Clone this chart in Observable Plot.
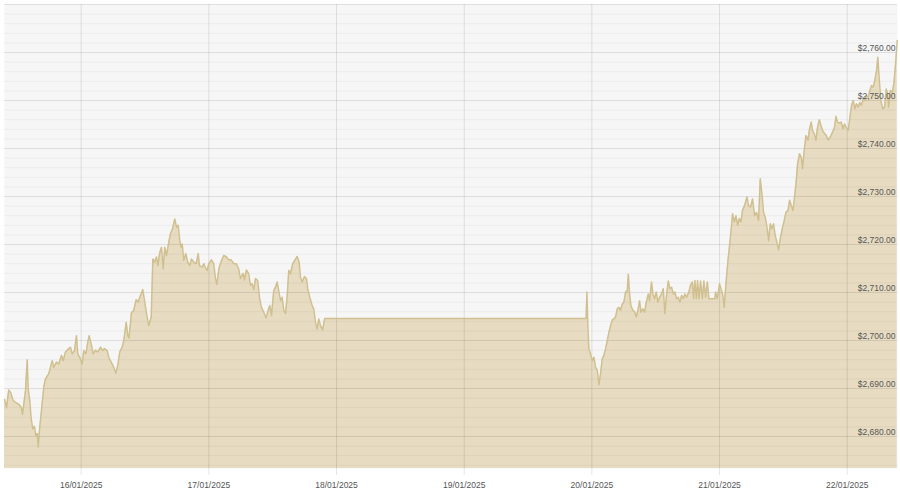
<!DOCTYPE html>
<html>
<head>
<meta charset="utf-8">
<script src="https://cdn.jsdelivr.net/npm/d3@7"></script>
<script src="https://cdn.jsdelivr.net/npm/@observablehq/plot@0.6"></script>
<style>
  html, body { margin: 0; padding: 0; background: #ffffff; }
  #chart { width: 900px; height: 494px; }
  svg { display: block; }
</style>
</head>
<body>
<div id="chart"></div>
<script>
// ---- data (UTC times, USD price) ----
const times = [
"2025-01-15T09:35","2025-01-15T09:58","2025-01-15T10:23","2025-01-15T10:43","2025-01-15T11:13","2025-01-15T11:39","2025-01-15T12:16","2025-01-15T12:43","2025-01-15T12:58","2025-01-15T13:13",
"2025-01-15T13:32","2025-01-15T13:51","2025-01-15T14:02","2025-01-15T14:20","2025-01-15T14:36","2025-01-15T14:54","2025-01-15T15:13","2025-01-15T15:28","2025-01-15T15:44","2025-01-15T15:55",
"2025-01-15T16:13","2025-01-15T16:32","2025-01-15T16:58","2025-01-15T17:17","2025-01-15T17:55","2025-01-15T18:33","2025-01-15T18:51","2025-01-15T19:22","2025-01-15T19:47","2025-01-15T20:18",
"2025-01-15T20:37","2025-01-15T21:03","2025-01-15T21:40","2025-01-15T21:59","2025-01-15T22:18","2025-01-15T22:44","2025-01-15T23:07","2025-01-15T23:22","2025-01-15T23:44",
"2025-01-16T00:11","2025-01-16T00:29","2025-01-16T00:52","2025-01-16T01:14","2025-01-16T01:30","2025-01-16T01:53","2025-01-16T02:15","2025-01-16T02:41","2025-01-16T03:07","2025-01-16T03:38",
"2025-01-16T04:00","2025-01-16T04:23","2025-01-16T04:53","2025-01-16T05:11","2025-01-16T05:38","2025-01-16T06:08","2025-01-16T06:30","2025-01-16T06:53","2025-01-16T07:15","2025-01-16T07:42",
"2025-01-16T08:01","2025-01-16T08:28","2025-01-16T08:46","2025-01-16T08:59","2025-01-16T09:27","2025-01-16T09:53","2025-01-16T10:20","2025-01-16T10:43","2025-01-16T11:01","2025-01-16T11:35",
"2025-01-16T11:57","2025-01-16T12:17","2025-01-16T12:42","2025-01-16T13:10","2025-01-16T13:28","2025-01-16T13:47","2025-01-16T14:09","2025-01-16T14:24","2025-01-16T14:47","2025-01-16T15:06",
"2025-01-16T15:25","2025-01-16T15:43","2025-01-16T16:02","2025-01-16T16:28","2025-01-16T16:47","2025-01-16T17:10","2025-01-16T17:36","2025-01-16T17:55","2025-01-16T18:14","2025-01-16T18:32",
"2025-01-16T18:48","2025-01-16T18:59","2025-01-16T19:17","2025-01-16T19:40","2025-01-16T20:02","2025-01-16T20:25","2025-01-16T20:44","2025-01-16T21:10","2025-01-16T21:37","2025-01-16T22:00",
"2025-01-16T22:14","2025-01-16T22:45","2025-01-16T23:03","2025-01-16T23:22","2025-01-16T23:41","2025-01-16T23:59",
"2025-01-17T00:29","2025-01-17T00:55","2025-01-17T01:14","2025-01-17T01:29","2025-01-17T01:54","2025-01-17T02:20","2025-01-17T02:48","2025-01-17T03:19","2025-01-17T03:44","2025-01-17T04:11",
"2025-01-17T04:41","2025-01-17T05:11","2025-01-17T05:37","2025-01-17T05:56","2025-01-17T06:27","2025-01-17T06:41","2025-01-17T07:04","2025-01-17T07:30","2025-01-17T07:49","2025-01-17T08:08",
"2025-01-17T08:26","2025-01-17T08:46","2025-01-17T09:11","2025-01-17T09:31","2025-01-17T09:53","2025-01-17T10:19","2025-01-17T10:46","2025-01-17T11:09","2025-01-17T11:27","2025-01-17T11:46",
"2025-01-17T12:12","2025-01-17T12:31","2025-01-17T12:50","2025-01-17T13:08","2025-01-17T13:28","2025-01-17T13:47","2025-01-17T14:05","2025-01-17T14:24","2025-01-17T14:43","2025-01-17T15:01",
"2025-01-17T15:20","2025-01-17T15:46","2025-01-17T16:09","2025-01-17T16:36","2025-01-17T16:59","2025-01-17T17:13","2025-01-17T17:32","2025-01-17T17:58","2025-01-17T18:21","2025-01-17T18:35",
"2025-01-17T18:58","2025-01-17T19:25","2025-01-17T19:43","2025-01-17T20:02","2025-01-17T20:22","2025-01-17T20:40","2025-01-17T20:59","2025-01-17T21:22","2025-01-17T21:47",
"2025-01-19T22:55","2025-01-19T23:04","2025-01-19T23:15","2025-01-19T23:26","2025-01-19T23:45",
"2025-01-20T00:05","2025-01-20T00:23","2025-01-20T00:42","2025-01-20T01:01","2025-01-20T01:19","2025-01-20T01:38","2025-01-20T01:57","2025-01-20T02:15","2025-01-20T02:35","2025-01-20T02:54",
"2025-01-20T03:12","2025-01-20T03:31","2025-01-20T03:50","2025-01-20T04:08","2025-01-20T04:27","2025-01-20T04:47","2025-01-20T05:05","2025-01-20T05:24","2025-01-20T05:43","2025-01-20T06:01",
"2025-01-20T06:20","2025-01-20T06:39","2025-01-20T06:51","2025-01-20T07:05","2025-01-20T07:20","2025-01-20T07:42","2025-01-20T08:05","2025-01-20T08:21","2025-01-20T08:43","2025-01-20T08:58",
"2025-01-20T09:13","2025-01-20T09:35","2025-01-20T09:54","2025-01-20T10:14","2025-01-20T10:36","2025-01-20T10:51","2025-01-20T11:13","2025-01-20T11:28","2025-01-20T11:47","2025-01-20T12:06",
"2025-01-20T12:24","2025-01-20T12:44","2025-01-20T13:06","2025-01-20T13:25","2025-01-20T13:43","2025-01-20T13:59","2025-01-20T14:22","2025-01-20T14:40","2025-01-20T14:59","2025-01-20T15:18",
"2025-01-20T15:36","2025-01-20T15:55","2025-01-20T16:15","2025-01-20T16:33","2025-01-20T16:52","2025-01-20T17:11","2025-01-20T17:29","2025-01-20T17:48","2025-01-20T18:14","2025-01-20T18:33",
"2025-01-20T18:53","2025-01-20T19:07","2025-01-20T19:22","2025-01-20T19:38","2025-01-20T19:52","2025-01-20T20:07","2025-01-20T20:26","2025-01-20T20:45","2025-01-20T21:03","2025-01-20T21:22",
"2025-01-20T21:42","2025-01-20T22:00","2025-01-20T23:07","2025-01-20T23:15","2025-01-20T23:35",
"2025-01-21T00:00","2025-01-21T00:16","2025-01-21T00:34","2025-01-21T00:53","2025-01-21T01:12","2025-01-21T01:35","2025-01-21T02:01","2025-01-21T02:27","2025-01-21T02:46","2025-01-21T03:05",
"2025-01-21T03:23","2025-01-21T03:42","2025-01-21T04:01","2025-01-21T04:19","2025-01-21T04:42","2025-01-21T05:09","2025-01-21T05:27","2025-01-21T05:50","2025-01-21T06:12","2025-01-21T06:35",
"2025-01-21T06:57","2025-01-21T07:20","2025-01-21T07:39","2025-01-21T07:58","2025-01-21T08:16","2025-01-21T08:35","2025-01-21T08:55","2025-01-21T09:13","2025-01-21T09:32","2025-01-21T09:51",
"2025-01-21T10:09","2025-01-21T10:28","2025-01-21T10:51","2025-01-21T11:05","2025-01-21T11:28","2025-01-21T11:51","2025-01-21T12:10","2025-01-21T12:29","2025-01-21T12:52","2025-01-21T13:10",
"2025-01-21T13:29","2025-01-21T13:48","2025-01-21T14:06","2025-01-21T14:22","2025-01-21T14:40","2025-01-21T15:02","2025-01-21T15:22","2025-01-21T15:36","2025-01-21T15:55","2025-01-21T16:15",
"2025-01-21T16:37","2025-01-21T16:55","2025-01-21T17:14","2025-01-21T17:29","2025-01-21T17:48","2025-01-21T18:07","2025-01-21T18:25","2025-01-21T18:45","2025-01-21T19:04","2025-01-21T19:22",
"2025-01-21T19:44","2025-01-21T20:04","2025-01-21T20:23","2025-01-21T20:49","2025-01-21T21:15","2025-01-21T21:37","2025-01-21T21:53","2025-01-21T22:11","2025-01-21T22:30","2025-01-21T22:53",
"2025-01-21T23:12","2025-01-21T23:30","2025-01-21T23:49",
"2025-01-22T00:11","2025-01-22T00:29","2025-01-22T00:49","2025-01-22T01:08","2025-01-22T01:26","2025-01-22T01:45","2025-01-22T02:04","2025-01-22T02:22","2025-01-22T02:41","2025-01-22T03:01",
"2025-01-22T03:19","2025-01-22T03:38","2025-01-22T03:57","2025-01-22T04:15","2025-01-22T04:34","2025-01-22T04:53","2025-01-22T05:11","2025-01-22T05:31","2025-01-22T05:45","2025-01-22T06:01",
"2025-01-22T06:19","2025-01-22T06:41","2025-01-22T07:01","2025-01-22T07:20","2025-01-22T07:35","2025-01-22T07:46","2025-01-22T08:05","2025-01-22T08:28","2025-01-22T08:46","2025-01-22T09:05",
"2025-01-22T09:24"
];
const prices = [
2687.7,2686.0,2689.7,2689.2,2687.5,2687.1,2686.7,2686.1,2684.6,2686.8,
2689.6,2696.0,2690.0,2687.5,2683.7,2681.6,2682.1,2680.2,2680.6,2677.8,
2682.0,2685.4,2690.3,2692.0,2693.1,2695.8,2694.4,2695.5,2695.1,2696.9,
2695.8,2697.6,2698.3,2698.6,2697.2,2697.9,2701.0,2697.2,2696.5,
2695.1,2697.9,2697.2,2699.6,2701.0,2699.3,2697.2,2698.0,2697.6,2698.6,
2697.9,2698.3,2697.9,2696.5,2695.5,2694.4,2693.2,2694.8,2697.6,2698.6,
2700.0,2703.8,2701.0,2700.5,2705.8,2706.3,2708.5,2708.0,2709.0,2710.6,
2708.0,2705.6,2703.1,2704.9,2717.0,2716.3,2717.4,2715.6,2718.4,2719.4,
2714.9,2719.4,2717.7,2720.5,2722.2,2723.3,2725.3,2723.6,2724.0,2720.8,
2719.4,2720.1,2716.7,2718.1,2716.3,2715.6,2717.0,2716.3,2716.0,2718.1,
2715.6,2715.3,2716.0,2715.1,2714.6,2716.0,
2716.8,2716.0,2713.0,2711.7,2715.0,2716.5,2717.7,2717.4,2716.8,2716.8,
2716.0,2716.0,2714.9,2712.9,2714.0,2712.6,2714.7,2713.9,2711.5,2711.8,
2710.6,2712.9,2712.5,2709.0,2706.9,2705.9,2704.7,2706.3,2707.3,2705.2,
2710.4,2711.1,2712.2,2710.4,2708.3,2709.0,2706.3,2705.6,2709.0,2714.6,
2713.9,2716.0,2716.7,2717.5,2716.3,2713.2,2712.2,2713.3,2712.9,2710.8,
2709.0,2707.3,2706.6,2703.8,2702.4,2704.5,2703.1,2702.2,2704.6,
2704.6,2710.1,2702.8,2698.3,2697.2,
2695.8,2696.5,2694.4,2693.8,2690.8,2693.1,2696.2,2696.9,2698.3,2700.0,
2701.7,2703.1,2704.3,2704.5,2704.9,2706.6,2706.9,2706.3,2707.6,2708.0,
2710.1,2710.4,2713.8,2709.7,2707.3,2706.3,2705.9,2704.9,2706.6,2708.3,
2705.9,2706.6,2705.9,2708.0,2709.7,2708.3,2712.2,2709.7,2708.7,2710.1,
2708.0,2709.0,2709.7,2710.8,2705.6,2709.0,2712.4,2710.8,2711.1,2709.7,
2710.1,2708.7,2709.0,2708.0,2709.4,2708.7,2709.7,2709.0,2710.1,2711.5,
2712.2,2708.7,2712.5,2708.7,2712.5,2708.7,2712.4,2708.7,2712.4,2709.0,
2712.2,2708.7,2708.7,2710.1,2708.7,
2711.8,2710.8,2709.7,2706.9,2711.8,2716.7,2721.2,2726.4,2724.7,2726.0,
2724.0,2725.4,2724.7,2727.1,2728.1,2729.9,2728.1,2727.8,2729.5,2726.0,
2726.7,2725.0,2733.7,2730.6,2726.7,2725.7,2723.6,2720.8,2724.3,2723.3,
2724.3,2721.9,2720.1,2718.9,2721.5,2723.6,2725.0,2726.7,2727.1,2729.2,
2728.1,2727.1,2729.9,2732.6,2736.8,2738.9,2738.2,2735.8,2739.6,2742.7,
2741.7,2744.1,2745.5,2743.8,2743.1,2741.7,2744.4,2746.0,2744.8,2743.8,
2743.1,2742.7,2741.8,2742.4,2743.4,2744.4,2746.7,2745.5,2745.3,2745.5,
2744.1,2745.1,2744.4,
2743.8,2746.2,2749.0,2750.0,2748.3,2749.3,2748.6,2749.6,2749.0,2750.4,
2750.0,2751.0,2750.7,2752.1,2753.1,2752.8,2754.2,2756.3,2759.0,2754.5,
2750.0,2748.3,2748.6,2752.4,2751.4,2748.6,2752.1,2751.7,2753.5,2757.6,
2762.5
];
// ---- axes ----
const xDomain = ["2025-01-15T09:35", "2025-01-22T09:27"];
const yDomain = [2673.33, 2770];
const xTicks = ["2025-01-16","2025-01-17","2025-01-18","2025-01-19","2025-01-20","2025-01-21","2025-01-22"];
const yTicks = [2680, 2690, 2700, 2710, 2720, 2730, 2740, 2750, 2760];
const yMajorLines = [2680, 2690, 2700, 2710, 2720, 2730, 2740, 2750, 2760, 2770];
const yMinorStep = 2;

const data = times.map((t, i) => ({date: new Date(t + ":00Z"), price: prices[i]}));
const minorLines = d3.range(2674, 2770, yMinorStep).filter(v => v % 10 !== 0);
const fmtPrice = d3.format("$,.2f");
const fmtDate = d3.utcFormat("%d/%m/%Y");

const chart = Plot.plot({
  width: 900,
  height: 494,
  marginLeft: 4,
  marginRight: 3,
  marginTop: 4,
  marginBottom: 26,
  style: {fontFamily: "'Liberation Sans', Arial, sans-serif", fontSize: "8.5px", color: "#555", background: "#ffffff"},
  x: {type: "utc", domain: xDomain.map(s => new Date(s + ":00Z"))},
  y: {domain: yDomain, axis: null},
  marks: [
    Plot.frame({fill: "#f6f6f6", stroke: null}),
    Plot.areaY(data, {x: "date", y1: yDomain[0], y2: "price", fill: "#e7dcc2", curve: "linear"}),
    Plot.ruleY(minorLines, {stroke: "#000", strokeOpacity: 0.045}),
    Plot.ruleY(yMajorLines, {stroke: "#000", strokeOpacity: 0.1}),
    Plot.gridX(xTicks.map(s => new Date(s + "T00:00:00Z")), {stroke: "#000", strokeOpacity: 0.1}),
    Plot.axisX(xTicks.map(s => new Date(s + "T00:00:00Z")), {
      tickSize: 7, tickPadding: 6, stroke: "#000", strokeOpacity: 0.1,
      tickFormat: fmtDate, fill: "#555", fontSize: 8.5
    }),
    Plot.lineY(data, {x: "date", y: "price", stroke: "#d0c090", strokeWidth: 1.5, curve: "linear"}),
    Plot.text(yTicks, {y: d => d, text: d => fmtPrice(d), frameAnchor: "right", textAnchor: "end",
      lineAnchor: "bottom", dx: -2, dy: -1, fill: "#555", fontSize: 8.5})
  ]
});
document.getElementById("chart").appendChild(chart);
</script>
</body>
</html>
